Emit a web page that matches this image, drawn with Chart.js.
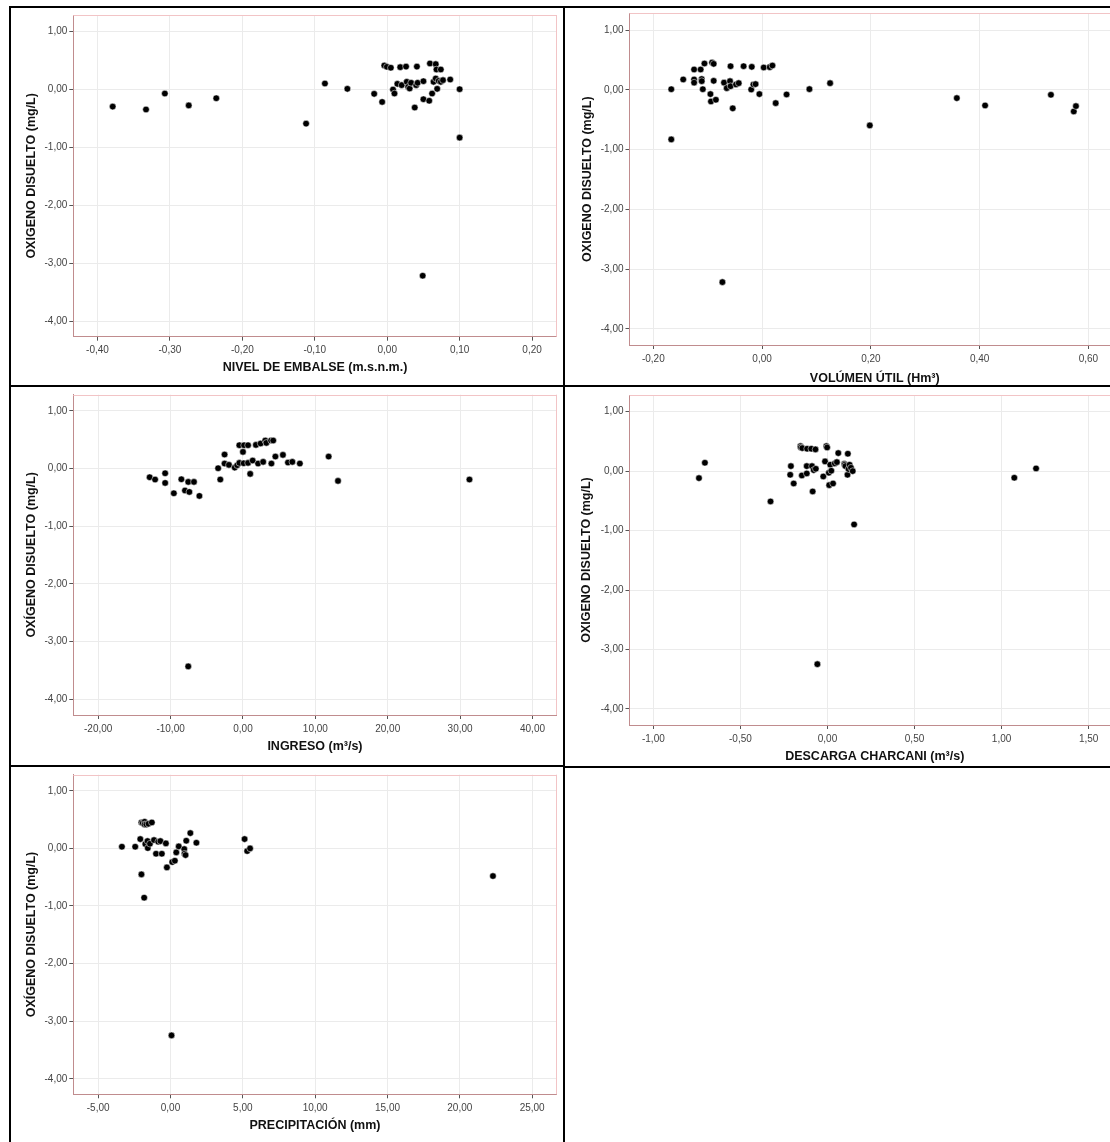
<!DOCTYPE html>
<html lang="es">
<head>
<meta charset="utf-8">
<title>Oxígeno disuelto - dispersión</title>
<script src="https://cdn.jsdelivr.net/npm/chart.js@4.4.1/dist/chart.umd.min.js"></script>
<style>
    html, body { margin: 0; padding: 0; background: #fff; }
    body { width: 1110px; height: 1142px; position: relative; overflow: hidden; }
    .cell { position: absolute; overflow: hidden; }
    .cell canvas { position: absolute; left: 0; top: -12px; }
    .line { position: absolute; background: #000; z-index: 5; }
</style>
</head>
<body>

<div class="cell" style="left:11px;top:8px;width:552px;height:377px"><canvas id="nivel"></canvas></div>
<div class="cell" style="left:565px;top:8px;width:545px;height:377px"><canvas id="volumen"></canvas></div>
<div class="cell" style="left:11px;top:387px;width:552px;height:378px"><canvas id="ingreso"></canvas></div>
<div class="cell" style="left:565px;top:387px;width:545px;height:379px"><canvas id="descarga"></canvas></div>
<div class="cell" style="left:11px;top:767px;width:552px;height:375px"><canvas id="precip"></canvas></div>

<div class="line" style="left:9px;top:6px;width:1101px;height:2px"></div>
<div class="line" style="left:9px;top:6px;width:2px;height:1136px"></div>
<div class="line" style="left:563px;top:6px;width:2px;height:1136px"></div>
<div class="line" style="left:9px;top:385px;width:1101px;height:2px"></div>
<div class="line" style="left:9px;top:765px;width:556px;height:2px"></div>
<div class="line" style="left:563px;top:766px;width:547px;height:2px"></div>

<script>
// tick labels
const oxigenoTicks = [1, 0, -1, -2, -3, -4];
const nivelTicks = [-0.4, -0.3, -0.2, -0.1, 0, 0.1, 0.2];
const volumenTicks = [-0.2, 0, 0.2, 0.4, 0.6];
const ingresoTicks = [-20, -10, 0, 10, 20, 30, 40];
const descargaTicks = [-1, -0.5, 0, 0.5, 1, 1.5];
const precipTicks = [-5, 0, 5, 10, 15, 20, 25];

// NIVEL DE EMBALSE vs OD
const nivelX = [-0.379, -0.333, -0.307, -0.274, -0.236, -0.112, -0.086, -0.055, -0.018, -0.007,
    -0.004, -0.0005, 0.005, 0.008, 0.010, 0.014, 0.018, 0.020, 0.026, 0.027,
    0.029, 0.031, 0.033, 0.038, 0.040, 0.041, 0.042, 0.049, 0.050, 0.050,
    0.058, 0.059, 0.062, 0.064, 0.067, 0.067, 0.068, 0.069, 0.071, 0.074,
    0.074, 0.077, 0.087, 0.100, 0.100];
const nivelOD = [-0.30, -0.35, -0.075, -0.28, -0.156, -0.594, 0.098, 0.006, -0.08, -0.22,
    0.41, 0.386, 0.37, -0.006, -0.075, 0.092, 0.38, 0.07, 0.39, 0.127,
    0.04, 0.012, 0.11, -0.317, 0.07, 0.39, 0.11, -3.218, 0.138, -0.173,
    -0.20, 0.444, -0.075, 0.127, 0.432, 0.185, 0.34, 0.006, 0.144, 0.34,
    0.127, 0.156, 0.167, 0.0, -0.836];

// VOLUMEN UTIL vs OD
const volumenX = [-0.167, -0.167, -0.145, -0.125, -0.125, -0.125, -0.113, -0.111, -0.111, -0.109,
    -0.106, -0.095, -0.094, -0.092, -0.089, -0.089, -0.085, -0.073, -0.070, -0.065,
    -0.059, -0.058, -0.058, -0.054, -0.048, -0.043, -0.034, -0.020, -0.019, -0.016,
    -0.012, -0.005, 0.003, 0.014, 0.019, 0.025, 0.045, 0.087, 0.125, 0.198,
    0.358, 0.410, 0.531, 0.573, 0.577];
const volumenOD = [0.01, -0.83, 0.173, 0.34, 0.173, 0.12, 0.34, 0.18, 0.145, 0.01,
    0.44, -0.072, -0.195, 0.457, 0.434, 0.15, -0.167, -3.218, 0.12, 0.028,
    0.145, 0.395, 0.06, -0.31, 0.089, 0.111, 0.395, 0.005, 0.384, 0.089,
    0.095, -0.072, 0.373, 0.379, 0.406, -0.223, -0.078, 0.011, 0.111, -0.596,
    -0.139, -0.262, -0.084, -0.362, -0.273];

// INGRESO vs OD
const ingresoX = [-12.89, -12.14, -10.75, -10.75, -9.55, -8.51, -8.01, -7.56, -7.41, -7.56,
    -6.77, -6.02, -3.43, -3.13, -2.54, -2.54, -1.94, -1.14, -0.80, -0.50,
    -0.50, 0.0, 0.15, 0.10, 0.70, 0.70, 1.00, 1.34, 1.79, 2.09,
    2.44, 2.79, 3.08, 3.23, 3.88, 3.93, 4.18, 4.48, 5.52, 6.22,
    6.82, 7.86, 11.84, 13.13, 31.29];
const ingresoOD = [-0.15, -0.19, -0.081, -0.249, -0.428, -0.185, -0.38, -0.231, -0.405, -3.428,
    -0.231, -0.474, 0.006, -0.19, 0.243, 0.087, 0.064, 0.017, 0.058, 0.405,
    0.098, 0.289, 0.405, 0.092, 0.405, 0.098, -0.092, 0.139, 0.41, 0.087,
    0.434, 0.116, 0.486, 0.445, 0.486, 0.087, 0.486, 0.208, 0.237, 0.104,
    0.116, 0.087, 0.208, -0.214, -0.19];

// DESCARGA CHARCANI vs OD
const descargaX = [-0.738, -0.704, -0.327, -0.214, -0.210, -0.194, -0.155, -0.153, -0.147, -0.145,
    -0.119, -0.119, -0.117, -0.093, -0.089, -0.085, -0.079, -0.069, -0.067, -0.058,
    -0.024, -0.014, -0.006, -0.002, 0.008, 0.010, 0.016, 0.022, 0.032, 0.042,
    0.054, 0.062, 0.097, 0.099, 0.103, 0.115, 0.117, 0.121, 0.127, 0.135,
    0.145, 0.153, 1.073, 1.198];
const descargaOD = [-0.118, 0.14, -0.51, -0.062, 0.084, -0.208, 0.42, 0.398, -0.073, 0.387,
    0.084, -0.039, 0.376, 0.376, 0.084, -0.342, 0.017, 0.365, 0.039, -3.247,
    -0.09, 0.163, 0.42, 0.398, -0.028, -0.236, 0.107, 0.006, -0.208, 0.129,
    0.151, 0.303, 0.123, 0.107, 0.084, -0.062, 0.292, 0.034, 0.107, 0.056,
    0.0, -0.897, -0.112, 0.045];

// PRECIPITACION vs OD
const precipX = [-3.36, -2.44, -2.09, -2.01, -2.01, -1.92, -1.82, -1.79, -1.79, -1.74,
    -1.67, -1.59, -1.57, -1.52, -1.42, -1.29, -1.14, -1.00, -0.85, -0.70,
    -0.60, -0.32, -0.25, 0.07, 0.12, 0.30, 0.40, 0.57, 0.95, 0.97,
    1.04, 1.09, 1.37, 1.79, 5.12, 5.30, 5.50, 22.29];
const precipOD = [0.029, 0.029, 0.162, 0.451, -0.451, 0.44, -0.856, 0.463, 0.417, 0.075,
    0.417, 0.127, 0.006, 0.428, 0.081, 0.451, 0.145, -0.093, 0.116, 0.127,
    -0.093, 0.087, -0.33, -3.247, -0.237, -0.214, -0.069, 0.035, -0.012, -0.093,
    -0.116, 0.133, 0.266, 0.098, 0.162, -0.046, 0.0, -0.48];

const FONT = "'Liberation Sans', Arial, sans-serif";
const TITLE_OD = 'OXIGENO DISUELTO (mg/L)';
const TITLE_OD_ACC = 'OXÍGENO DISUELTO (mg/L)';

function fmt(v) {
    return Number(v).toFixed(2).replace('.', ',');
}

// pink top/right edges of the plot box
const frameLines = {
    id: 'frameLines',
    beforeDatasetsDraw(chart) {
        const {left, top, right, bottom} = chart.chartArea;
        const ctx = chart.ctx;
        ctx.save();
        ctx.strokeStyle = '#f2c4c6';
        ctx.lineWidth = 1;
        ctx.beginPath();
        ctx.moveTo(left, Math.round(top) + 0.5);
        ctx.lineTo(right, Math.round(top) + 0.5);
        ctx.moveTo(Math.round(right) - 0.5, top);
        ctx.lineTo(Math.round(right) - 0.5, bottom);
        ctx.stroke();
        ctx.restore();
    }
};

function makeScatter(p) {
    const canvas = document.getElementById(p.id);
    // canvas sits 12px above its cell and runs past the bottom
    const cx = p.cell[0];
    const cy = p.cell[1] - 12;
    const cw = p.width;
    const ch = p.cell[2] + 32;
    canvas.width = cw;
    canvas.height = ch;

    const yTitleSize = 12.5;
    const xTitleSize = 12.5;
    const yAxisWidth = p.plot[0] - cx;
    const xAxisHeight = cy + ch - p.plot[3];

    const points = p.xs.map((x, i) => ({x: x, y: p.ys[i]}));

    return new Chart(canvas.getContext('2d'), {
        type: 'scatter',
        data: {
            datasets: [{
                data: points,
                backgroundColor: '#000000',
                borderColor: 'rgba(255, 255, 255, 0.85)',
                borderWidth: 0.6,
                pointRadius: 3.3,
                pointHoverRadius: 3.3
            }]
        },
        options: {
            responsive: false,
            animation: false,
            devicePixelRatio: 1,
            layout: {
                padding: {
                    left: 0,
                    bottom: 0,
                    top: p.plot[1] - cy,
                    right: cx + cw - p.plot[2]
                }
            },
            plugins: {
                legend: { display: false },
                tooltip: { enabled: false }
            },
            scales: {
                x: {
                    type: 'linear',
                    min: p.xMin,
                    max: p.xMax,
                    afterBuildTicks: s => { s.ticks = p.xTicks.map(v => ({value: v})); },
                    afterFit: s => { s.height = xAxisHeight; },
                    grid: { color: '#ebebeb', tickColor: '#555', tickLength: 4 },
                    border: { color: '#c08c8e', width: 1 },
                    ticks: {
                        font: { family: FONT, size: 10 },
                        color: '#444',
                        padding: 4,
                        maxRotation: 0,
                        autoSkip: false,
                        callback: fmt
                    },
                    title: {
                        display: true,
                        text: p.xTitle,
                        color: '#111',
                        font: { family: FONT, size: xTitleSize, weight: 'bold' },
                        padding: { top: 0, bottom: cy + ch - p.xTitleY - xTitleSize * 0.6 }
                    }
                },
                y: {
                    type: 'linear',
                    min: -4.27,
                    max: 1.28,
                    afterBuildTicks: s => { s.ticks = oxigenoTicks.map(v => ({value: v})); },
                    afterFit: s => { s.width = yAxisWidth; },
                    grid: { color: '#ebebeb', tickColor: '#555', tickLength: 4 },
                    border: { color: '#c08c8e', width: 1 },
                    ticks: {
                        font: { family: FONT, size: 10 },
                        color: '#444',
                        padding: 2,
                        autoSkip: false,
                        callback: fmt
                    },
                    title: {
                        display: true,
                        text: p.yTitle,
                        color: '#111',
                        font: { family: FONT, size: yTitleSize, weight: 'bold' },
                        padding: { top: p.yTitleX - cx - yTitleSize * 0.6, bottom: 0 }
                    }
                }
            }
        },
        plugins: [frameLines]
    });
}

// cell: [left, top, height]; plot: [left, top, right, bottom] in page pixels
const panels = [
    { id: 'nivel', cell: [11, 8, 377], width: 552, plot: [73.3, 15, 556.7, 336.7],
      xs: nivelX, ys: nivelOD, xTicks: nivelTicks, xMin: -0.4334, xMax: 0.234,
      xTitle: 'NIVEL DE EMBALSE (m.s.n.m.)', yTitle: TITLE_OD, yTitleX: 31.5, xTitleY: 367.7 },
    { id: 'volumen', cell: [565, 8, 377], width: 600, plot: [629.5, 13.3, 1120, 345],
      xs: volumenX, ys: volumenOD, xTicks: volumenTicks, xMin: -0.2438, xMax: 0.658,
      xTitle: 'VOLÚMEN ÚTIL (Hm³)', yTitle: TITLE_OD, yTitleX: 588, xTitleY: 379 },
    { id: 'ingreso', cell: [11, 387, 378], width: 552, plot: [73.3, 394.7, 556.6, 715],
      xs: ingresoX, ys: ingresoOD, xTicks: ingresoTicks, xMin: -23.44, xMax: 43.33,
      xTitle: 'INGRESO (m³/s)', yTitle: TITLE_OD_ACC, yTitleX: 31.5, xTitleY: 746.7 },
    { id: 'descarga', cell: [565, 387, 379], width: 600, plot: [629.5, 395, 1120, 725],
      xs: descargaX, ys: descargaOD, xTicks: descargaTicks, xMin: -1.137, xMax: 1.68,
      xTitle: 'DESCARGA CHARCANI (m³/s)', yTitle: TITLE_OD, yTitleX: 586.3, xTitleY: 756.7 },
    { id: 'precip', cell: [11, 767, 375], width: 552, plot: [73.3, 774.7, 556.6, 1094.3],
      xs: precipX, ys: precipOD, xTicks: precipTicks, xMin: -6.72, xMax: 26.69,
      xTitle: 'PRECIPITACIÓN (mm)', yTitle: TITLE_OD_ACC, yTitleX: 31.5, xTitleY: 1125.7 }
];

panels.forEach(makeScatter);
</script>
</body>
</html>
